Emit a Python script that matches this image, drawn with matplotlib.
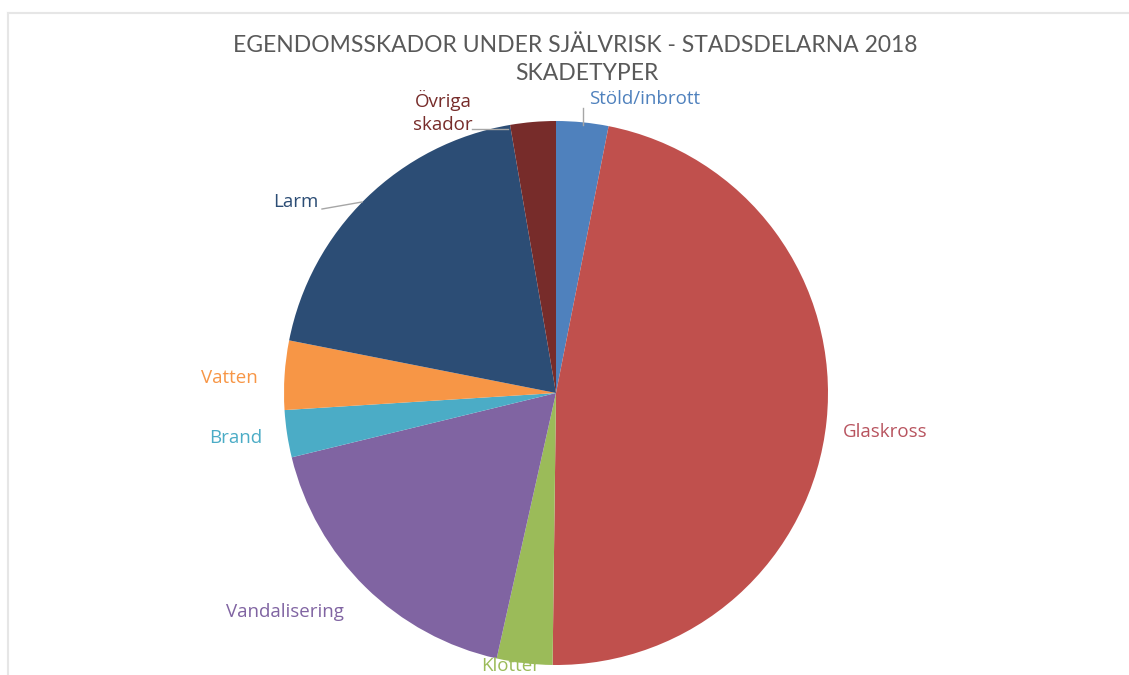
import matplotlib
matplotlib.use("Agg")
import matplotlib.pyplot as plt
from matplotlib.lines import Line2D

# ---- data ----
categories = ["Stöld/inbrott", "Glaskross", "Klotter", "Vandalisering",
              "Brand", "Vatten", "Larm", "Övriga\nskador"]
values = [3.1, 47.1, 3.3, 17.7, 2.8, 4.1, 19.2, 2.7]
colors = ["#4F81BD", "#C0504D", "#9BBB59", "#8064A2",
          "#4BACC6", "#F79646", "#2C4D75", "#772C2A"]
label_colors = ["#4F81BD", "#B8545F", "#9BBB59", "#8064A2",
                "#4BACC6", "#F79646", "#2C4D75", "#772C2A"]
title1 = "EGENDOMSSKADOR UNDER SJÄLVRISK - STADSDELARNA 2018"
title2 = "SKADETYPER"

# ---- layout (pixels, from top-left) ----
W, H = 1129, 675
cx, cy, R = 556, 393, 272
label_pos = [(645, 99), (885, 432), (511, 666), (285, 612),
             (236, 438), (229, 378), (296, 202), (443, 112)]

plt.rcParams['font.family'] = ['Lato', 'DejaVu Sans']
fig = plt.figure(figsize=(W / 100, H / 100), dpi=100)
ax = fig.add_axes([0, 0, 1, 1])
ax.pie(values, colors=colors, startangle=90, counterclock=False,
       radius=1, center=(0, 0), wedgeprops=dict(linewidth=0))
ax.set_xlim(-cx / R, (W - cx) / R)
ax.set_ylim(-(H - cy) / R, cy / R)
ax.set_aspect('equal')
ax.axis('off')


def px(x, y):
    return ((x - cx) / R, (cy - y) / R)


for cat, (lx, ly), col in zip(categories, label_pos, label_colors):
    ax.text(*px(lx, ly), cat, color=col, fontsize=13.5, ha='center',
            va='center', linespacing=1.4, family=['Open Sans', 'DejaVu Sans'],
            zorder=5)

# leader lines
lc = "#A6A6A6"
for (x0, y0), (x1, y1) in [((583, 108), (583, 125)),
                           ((472, 129), (508, 129)),
                           ((322, 209), (362, 202))]:
    a, b = px(x0, y0)
    c, d = px(x1, y1)
    ax.plot([a, c], [b, d], color=lc, lw=1)

ax.text(*px(575, 45), title1, color="#595959", fontsize=16.5, ha='center', va='center')
ax.text(*px(587, 73), title2, color="#595959", fontsize=16.5, ha='center', va='center')

# faint frame
fig.add_artist(Line2D([8 / W, 8 / W], [0, 1 - 13 / H], color="#E6E6E6", lw=1.5,
                      transform=fig.transFigure))
fig.add_artist(Line2D([8 / W, 1], [1 - 13 / H, 1 - 13 / H], color="#E6E6E6", lw=1.5,
                      transform=fig.transFigure))

fig.savefig("out.png", dpi=100, facecolor="white")
